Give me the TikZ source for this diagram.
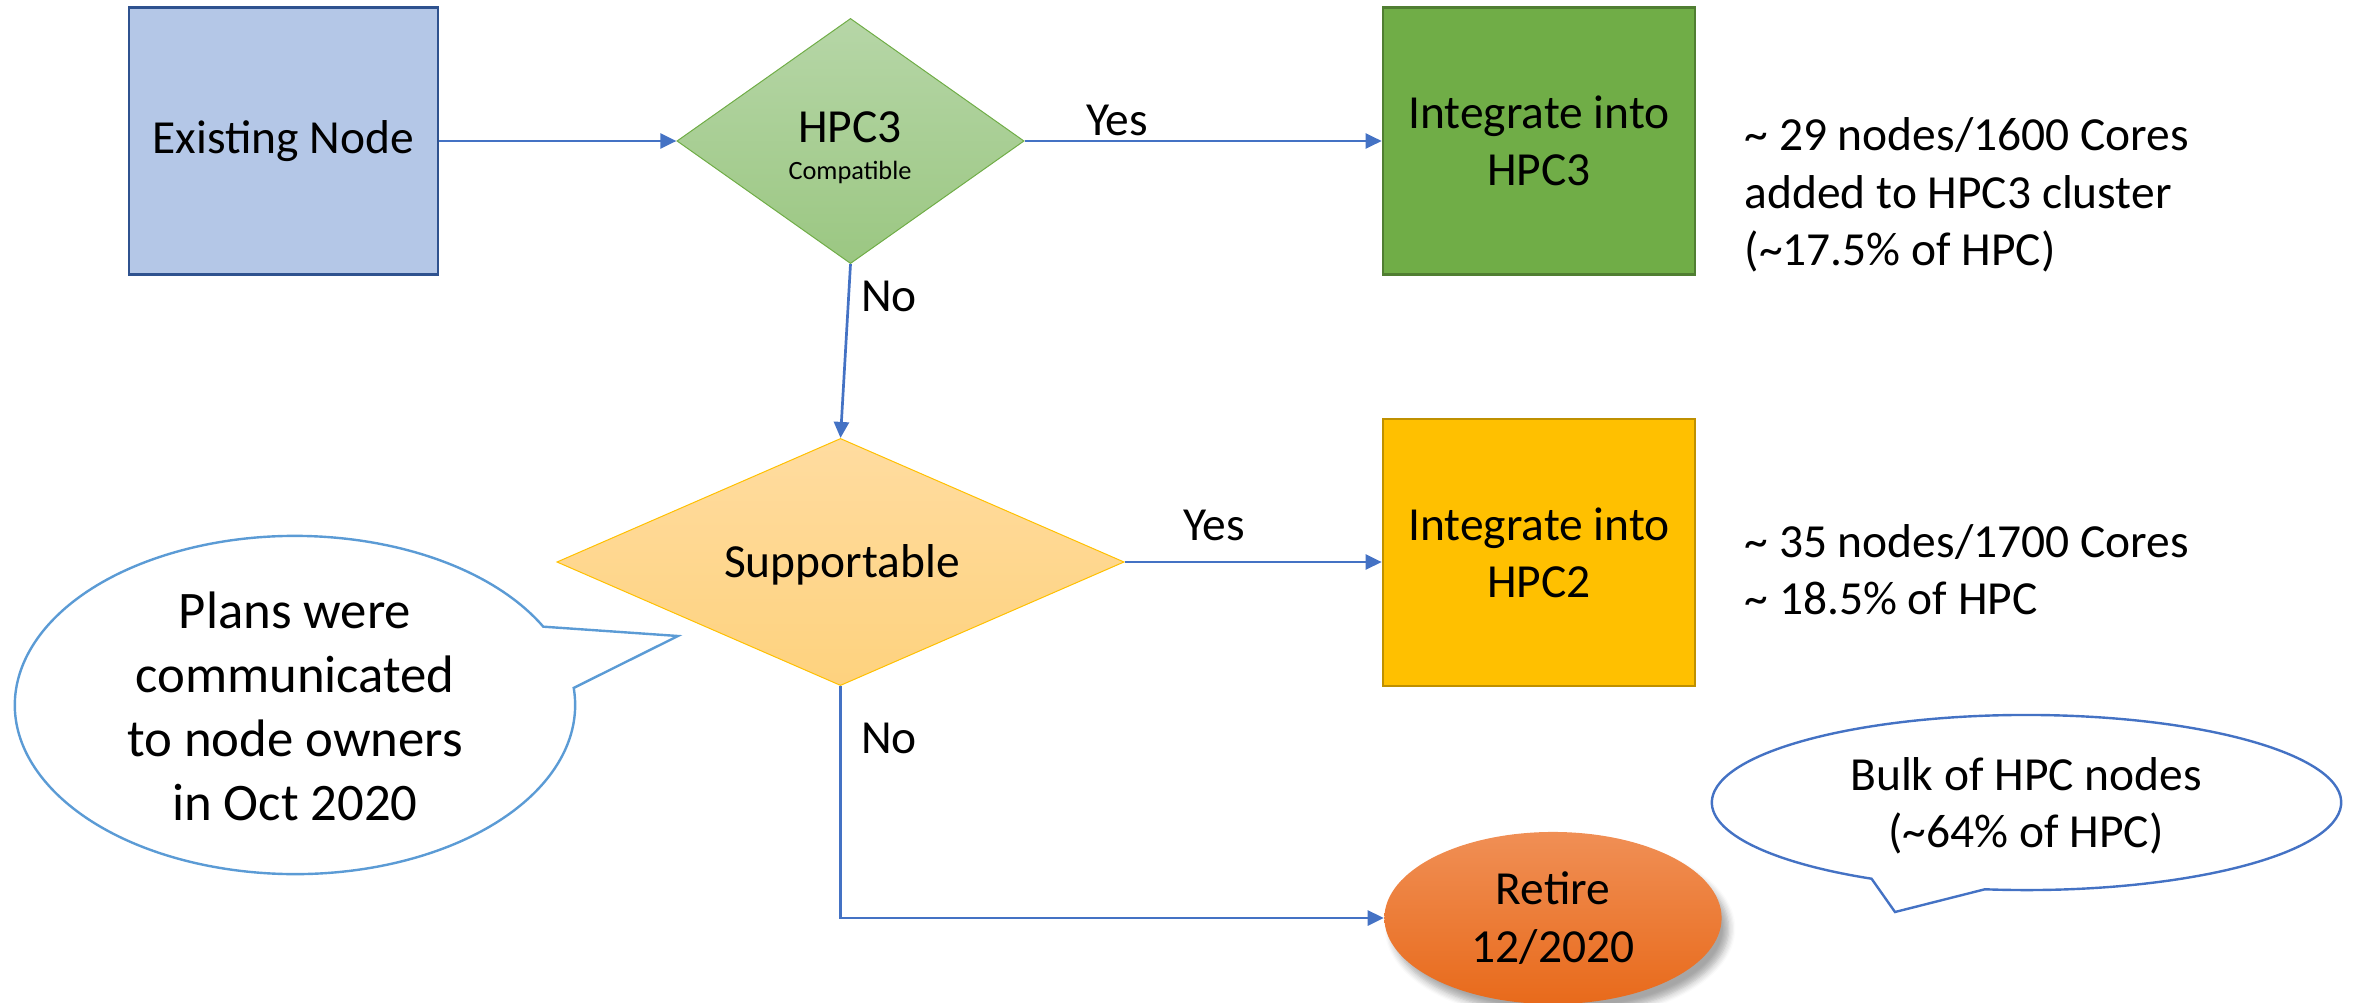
\documentclass[tikz,border=0pt]{standalone}
\usepackage{fontspec}
\setmainfont{Carlito}
\usetikzlibrary{shapes.geometric, arrows.meta, shadows.blur}
\definecolor{arrowblue}{HTML}{4472C4}
\definecolor{existfill}{HTML}{B4C7E7}
\definecolor{existdraw}{HTML}{2F528F}
\definecolor{greentop}{HTML}{B6D6A7}
\definecolor{greenbot}{HTML}{9BC782}
\definecolor{greendraw}{HTML}{70AD47}
\definecolor{boxgreen}{HTML}{70AD47}
\definecolor{boxgreendraw}{HTML}{507E32}
\definecolor{goldtop}{HTML}{FFDCA0}
\definecolor{goldbot}{HTML}{FED27E}
\definecolor{golddraw}{HTML}{FFC000}
\definecolor{boxgold}{HTML}{FFC000}
\definecolor{boxgolddraw}{HTML}{BF9000}
\definecolor{orangetop}{HTML}{F08F55}
\definecolor{orangebot}{HTML}{E86A1B}
\definecolor{calloutA}{HTML}{5B9BD5}
\definecolor{calloutB}{HTML}{4472C4}
\begin{document}
\begin{tikzpicture}[x=0.01cm, y=-0.01cm,
  txt/.style={font=\fontsize{13.5}{16.3}\selectfont, inner sep=0pt, align=center},
  bigtxt/.style={font=\fontsize{15}{18.2}\selectfont, inner sep=0pt, align=center},
  box/.style={rectangle, minimum width=3.12cm, minimum height=2.67cm, inner sep=0pt, align=center, font=\fontsize{13.5}{16.3}\selectfont, line width=0.025cm},
  conn/.style={draw=arrowblue, line width=0.027cm, -{Triangle[length=0.16cm, width=0.15cm]}},
  bubble/.style={fill=white, line width=0.024cm, line join=miter},
]
\useasboundingbox (0,0) rectangle (2354,1003);

% nodes
\node[box, minimum width=3.09cm, fill=existfill, draw=existdraw] (exist) at (283.5,141) {Existing Node};
\node[diamond, minimum width=3.47cm, minimum height=2.45cm, inner sep=0pt, draw=greendraw, line width=0.01cm, top color=greentop, bottom color=greenbot] (hpc3) at (850.5,141) {};
\node[txt] (hpc3t) at (850,127) {HPC3};
\node[font=\fontsize{7.5}{9}\selectfont, inner sep=0pt] (hpc3c) at (850,172) {Compatible};
\node[box, fill=boxgreen, draw=boxgreendraw] (hpc3box) at (1539,141) {Integrate into\\HPC3};

\node[diamond, minimum width=5.67cm, minimum height=2.47cm, inner sep=0pt, draw=golddraw, line width=0.01cm, top color=goldtop, bottom color=goldbot] (supp) at (840.5,562) {};
\node[txt] (supptxt) at (842,565) {Supportable};
\node[box, fill=boxgold, draw=boxgolddraw] (hpc2box) at (1539,552.5) {Integrate into\\HPC2};

\node[ellipse, minimum width=3.37cm, minimum height=1.72cm, inner sep=0pt, top color=orangetop, bottom color=orangebot, align=center, font=\fontsize{13.5}{16.3}\selectfont, blur shadow={shadow xshift=2pt, shadow yshift=-3pt, shadow blur steps=6, shadow opacity=35}] (retire) at (1553,918) {Retire\\12/2020};

% side notes
\node[txt, anchor=west, align=left] (note1) at (1744,195) {\textasciitilde{} 29 nodes/1600 Cores\\added to HPC3 cluster\\(\textasciitilde 17.5\% of HPC)};
\node[txt, anchor=west, align=left] (note2) at (1744,570) {\textasciitilde{} 35 nodes/1700 Cores\\\textasciitilde{} 18.5\% of HPC};

% connectors
\draw[conn] (exist.east) -- (hpc3.west);
\draw[conn] (hpc3.east) -- (hpc3box.west);
\draw[conn] (hpc3.south) -- (supp.north);
\draw[conn] (supp.east) -- (supp.east -| hpc2box.west);
\draw[conn] (supp.south) |- (retire.west);

% labels
\node[txt] (yes1) at (1117,120) {Yes};
\node[txt] (no1) at (889,296) {No};
\node[txt] (yes2) at (1214,525) {Yes};
\node[txt] (no2) at (889,738) {No};

% callouts
\draw[bubble, draw=calloutA] (295,705) ++(27.6:2.8cm and 1.69cm) arc[start angle=27.6, end angle=365.8, x radius=2.8cm, y radius=1.69cm] -- (678,636) -- cycle;
\node[bigtxt] (plans) at (295,706) {Plans were\\communicated\\to node owners\\in Oct 2020};

\draw[bubble, draw=calloutB] (2026.5,802.5) ++(262.4:3.145cm and 0.875cm) arc[start angle=262.4, end angle=600.5, x radius=3.145cm, y radius=0.875cm] -- (1895,912) -- cycle;
\node[txt] (bulk) at (2026,806) {Bulk of HPC nodes\\(\textasciitilde 64\% of HPC)};
\end{tikzpicture}
\end{document}
